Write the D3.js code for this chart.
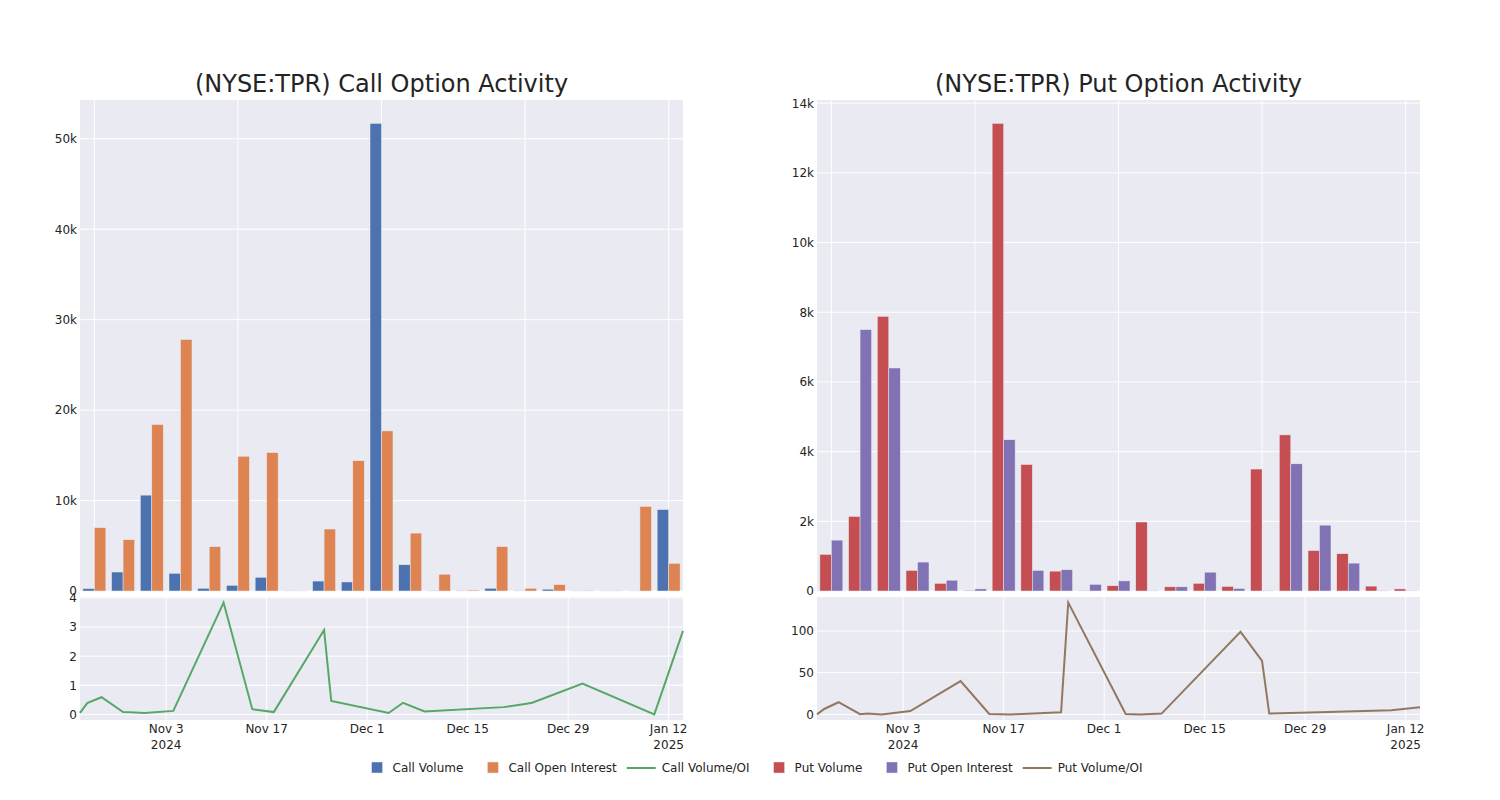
<!DOCTYPE html>
<html>
<head>
<meta charset="utf-8">
<script src="https://cdn.jsdelivr.net/npm/d3@7"></script>
<style>
body{margin:0;background:#fff}
svg{font-family:"DejaVu Sans",sans-serif}
</style>
</head>
<body>
<div id="chart"></div>
<script>
var parse = d3.timeParse("%Y-%m-%d") //turns the date strings into dates

//trading days that had activity
var dates = ["2024-10-22","2024-10-23","2024-10-25","2024-10-28","2024-10-29","2024-10-31","2024-11-04",
             "2024-11-11","2024-11-15","2024-11-18","2024-11-25","2024-11-26","2024-12-04","2024-12-06",
             "2024-12-09","2024-12-20","2024-12-23","2024-12-24","2024-12-31","2025-01-10","2025-01-14"]

//call side
var callVolume = [260,2100,10600,1960,300,630,1520,15,1100,1000,51700,2900,20,20,300,20,200,10,10,10,9000]
var callOpenInterest = [7000,5670,18400,27800,4900,14900,15300,10,6850,14400,17700,6400,1850,100,4900,300,700,50,20,9350,3050]
var callRatio = [0.05,0.39,0.59,0.08,0.07,0.05,0.12,3.84,0.18,0.08,2.9,0.46,0.05,0.4,0.1,0.25,0.36,0.4,1.06,0.0,2.87]

//put side
var putVolume = [1050,2140,7880,590,220,20,13420,3630,570,10,150,1980,120,220,130,3500,4480,1160,1070,140,60]
var putOpenInterest = [1460,7500,6400,830,310,60,4340,590,610,190,290,5,120,540,70,10,3650,1890,800,10,5]
var putRatio = [0,6.5,14.6,0.3,1.2,0,4,40,0.5,0,2.5,134,0.5,0,1,99,64,1,2.5,5,8.5]

//tick values
var dateTicks = ["2024-11-03","2024-11-17","2024-12-01","2024-12-15","2024-12-29","2025-01-12"]
var callBarTicks = [0,10000,20000,30000,40000,50000]
var putBarTicks = [0,2000,4000,6000,8000,10000,12000,14000]
var callRatioTicks = [0,1,2,3,4]
var putRatioTicks = [0,50,100]

var bg = "rgb(234,234,242)"
var ink = "rgb(36,36,36)"

var svg = d3.select("#chart").append("svg")
            .attr("width",1500)
            .attr("height",800)

function drawPanel(left, width, title, volume, openInterest, ratio, colors, barTicks, ratioTicks)
{
    var barTop = 100, barBottom = 591
    var lineTop = 597, lineBottom = 720
    var g = svg.append("g")

    g.append("text")
        .text(title)
        .attr("x", left + width/2)
        .attr("y", 92)
        .attr("text-anchor","middle")
        .style("font-size","24px")
        .style("fill",ink)

    //bar part
    g.append("rect").attr("x",left).attr("y",barTop)
        .attr("width",width).attr("height",barBottom-barTop).style("fill",bg)

    var x = d3.scaleBand()
              .domain(dates)
              .range([left, left+width])
              .paddingInner(0.2)
              .paddingOuter(0.1)
    var inner = d3.scaleBand().domain([0,1]).range([0, x.bandwidth()])

    var y = d3.scaleLinear()
              .domain([0, d3.max(volume.concat(openInterest))*1.05])
              .range([barBottom, barTop])

    g.selectAll(".ygrid").data(barTicks).enter().append("line")
        .attr("x1",left).attr("x2",left+width)
        .attr("y1",d => y(d)).attr("y2",d => y(d))
        .style("stroke","white").style("stroke-width",1)

    //categories get a grid line every fifth one
    g.selectAll(".xgrid").data(dates.filter((d,i) => i%5==0)).enter().append("line")
        .attr("x1",d => x(d)+x.bandwidth()/2).attr("x2",d => x(d)+x.bandwidth()/2)
        .attr("y1",barTop).attr("y2",barBottom)
        .style("stroke","white").style("stroke-width",1)

    var yAxis = d3.axisLeft(y).tickValues(barTicks).tickSize(0).tickPadding(3)
                  .tickFormat(d => d==0 ? "0" : d3.format("~s")(d))
    var ya = g.append("g").attr("transform",`translate(${left},0)`).call(yAxis)
    ya.select(".domain").remove()
    ya.selectAll("text").style("font-size","12px").style("fill",ink).style("font-family","DejaVu Sans")

    var series = [volume, openInterest]
    series.forEach(function(values, s){
        g.selectAll(".bar"+s).data(values).enter().append("rect")
            .attr("x",(d,i) => x(dates[i]) + inner(s))
            .attr("width",inner.bandwidth())
            .attr("y",d => y(d))
            .attr("height",d => barBottom - y(d))
            .style("fill",colors[s])
            .style("stroke",bg)
            .style("stroke-width",0.5)
    })

    //ratio part
    g.append("rect").attr("x",left).attr("y",lineTop)
        .attr("width",width).attr("height",lineBottom-lineTop).style("fill",bg)

    var t = d3.scaleTime()
              .domain(d3.extent(dates, d => parse(d)))
              .range([left, left+width])
    var lo = d3.min(ratio), hi = d3.max(ratio), pad = (hi-lo)*0.05
    var r = d3.scaleLinear().domain([lo-pad, hi+pad]).range([lineBottom, lineTop])

    g.selectAll(".rgrid").data(ratioTicks).enter().append("line")
        .attr("x1",left).attr("x2",left+width)
        .attr("y1",d => r(d)).attr("y2",d => r(d))
        .style("stroke","white").style("stroke-width",1)
    g.selectAll(".tgrid").data(dateTicks).enter().append("line")
        .attr("x1",d => t(parse(d))).attr("x2",d => t(parse(d)))
        .attr("y1",lineTop).attr("y2",lineBottom)
        .style("stroke","white").style("stroke-width",1)

    var ra = g.append("g").attr("transform",`translate(${left},0)`)
              .call(d3.axisLeft(r).tickValues(ratioTicks).tickSize(0).tickPadding(3).tickFormat(d3.format("d")))
    ra.select(".domain").remove()
    ra.selectAll("text").style("font-size","12px").style("fill",ink).style("font-family","DejaVu Sans")

    g.append("path")
        .datum(ratio)
        .attr("d", d3.line().x((d,i) => t(parse(dates[i]))).y(d => r(d)))
        .style("fill","none")
        .style("stroke",colors[2])
        .style("stroke-width",2)

    //date labels, year only under first tick and on a year change
    var lastYear = null
    dateTicks.forEach(function(d){
        var dt = parse(d)
        var label = g.append("text")
                      .attr("x",t(dt))
                      .attr("y",lineBottom+13)
                      .attr("text-anchor","middle")
                      .style("font-size","12px")
                      .style("fill",ink)
        label.append("tspan").attr("x",t(dt)).text(d3.timeFormat("%b %-d")(dt))
        var yr = dt.getFullYear()
        if(yr != lastYear)
            {label.append("tspan").attr("x",t(dt)).attr("dy",16).text(yr)}
        lastYear = yr
    })
}

drawPanel(80, 603, "(NYSE:TPR) Call Option Activity", callVolume, callOpenInterest, callRatio,
          ["rgb(76,114,176)","rgb(221,132,82)","rgb(85,168,104)"], callBarTicks, callRatioTicks)
drawPanel(817, 603, "(NYSE:TPR) Put Option Activity", putVolume, putOpenInterest, putRatio,
          ["rgb(196,78,82)","rgb(129,114,179)","rgb(147,120,96)"], putBarTicks, putRatioTicks)

//legend
var legendItems = [
    {name:"Call Volume", color:"rgb(76,114,176)", type:"bar"},
    {name:"Call Open Interest", color:"rgb(221,132,82)", type:"bar"},
    {name:"Call Volume/OI", color:"rgb(85,168,104)", type:"line"},
    {name:"Put Volume", color:"rgb(196,78,82)", type:"bar"},
    {name:"Put Open Interest", color:"rgb(129,114,179)", type:"bar"},
    {name:"Put Volume/OI", color:"rgb(147,120,96)", type:"line"}
]
var legend = svg.append("g")
var lx = 0
legendItems.forEach(function(item){
    var it = legend.append("g").attr("transform",`translate(${lx},0)`)
    if(item.type=="bar")
        {it.append("rect").attr("x",19).attr("y",-6).attr("width",11).attr("height",11)
            .style("fill",item.color).style("stroke",bg).style("stroke-width",0.5)}
    else
        {it.append("line").attr("x1",5).attr("x2",34).attr("y1",0).attr("y2",0)
            .style("stroke",item.color).style("stroke-width",2)}
    var txt = it.append("text").text(item.name)
                .attr("x",40).attr("y",4)
                .style("font-size","12px").style("fill",ink)
    lx += 40 + txt.node().getComputedTextLength() + 5
})
legend.attr("transform",`translate(${750 - lx/2},768)`)
</script>
</body>
</html>
